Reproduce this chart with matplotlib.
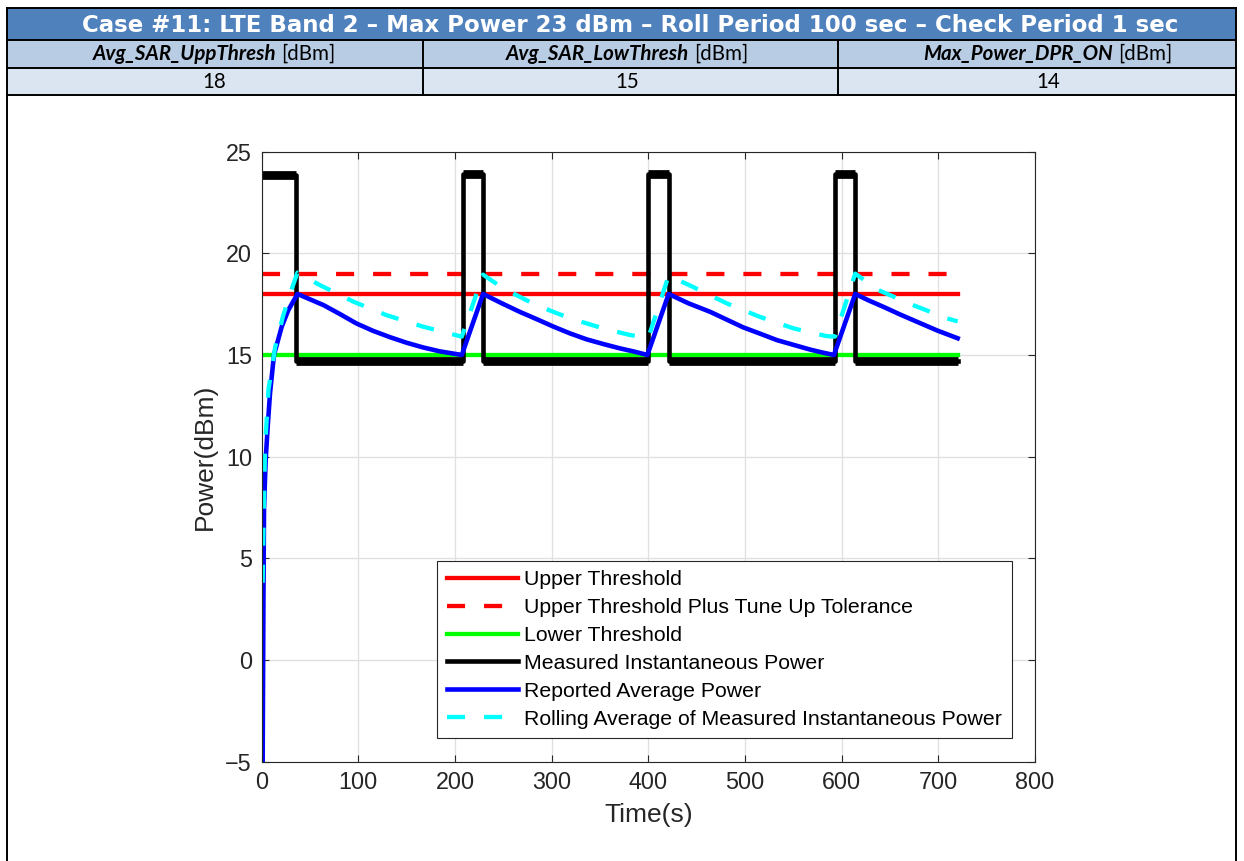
import matplotlib.pyplot as plt
from matplotlib.patches import Rectangle

# thresholds (dBm)
upper_thresh = 18
tune_up_tol = 1
lower_thresh = 15
t_end = 720

# measured instantaneous power: level holds from each switch time to the next
meas_time = [0, 36, 208, 229, 400, 421, 593, 614, 720]
meas_level = [23.85, 14.7, 23.9, 14.7, 23.9, 14.7, 23.9, 14.7, 14.7]

# reported average power
rep_time = [1, 1.8, 2.4, 4.1, 6.2, 8.6, 12.7, 20.7, 27.5, 37,
            64, 81, 98, 115, 133, 150, 167, 184, 207, 229,
            248, 267, 285, 302, 319, 336, 354, 371, 385, 399, 421,
            441, 464, 481, 498, 516, 533, 550, 567, 580, 592, 614,
            628, 643, 660, 678, 699, 720]
rep_power = [-5, 3, 7.45, 9.83, 11.47, 13.11, 15.0, 16.39, 17.2, 18.0,
             17.45, 17.01, 16.55, 16.19, 15.87, 15.6, 15.37, 15.18, 15.0, 18.0,
             17.55, 17.12, 16.75, 16.39, 16.06, 15.77, 15.53, 15.32, 15.17, 15.0, 18.0,
             17.55, 17.12, 16.74, 16.36, 16.04, 15.73, 15.5, 15.27, 15.12, 15.0, 18.0,
             17.68, 17.37, 17.0, 16.63, 16.2, 15.82]

# rolling average of measured power
roll_time = [1, 2, 3.5, 7, 14, 22, 30, 37,
             60, 95, 129, 167, 207, 229,
             250, 284, 319, 353, 381, 400, 421,
             446, 481, 515, 550, 584, 593, 614,
             638, 674, 709, 720]
roll_power = [3.8, 7.0, 10.5, 13.3, 15.4, 16.9, 18.1, 19.05,
              18.44, 17.62, 16.96, 16.39, 15.9, 18.95,
              18.27, 17.45, 16.8, 16.31, 15.98, 15.85, 18.9,
              18.35, 17.54, 16.88, 16.31, 15.93, 15.9, 19.0,
              18.19, 17.45, 16.8, 16.65]

header = 'Case #11: LTE Band 2 \u2013 Max Power 23 dBm \u2013 Roll Period 100 sec \u2013 Check Period 1 sec'
param_names = ['Avg_SAR_UppThresh', 'Avg_SAR_LowThresh', 'Max_Power_DPR_ON']
param_values = [18, 15, 14]

W, H = 1244, 861
fig = plt.figure(figsize=(W / 100, H / 100), dpi=100)

# table drawn in pixel coordinates
tab = fig.add_axes([0, 0, 1, 1])
tab.set_xlim(0, W)
tab.set_ylim(H, 0)
tab.axis('off')

left, right = 7, 1236
rows = [8, 40, 68, 95]
col_edges = [left, 423, 838, right]
col_centers = [214, 627, 1048]
tab.add_patch(Rectangle((left, rows[0]), right - left, rows[1] - rows[0], fc='#4F81BD', ec='none'))
tab.add_patch(Rectangle((left, rows[1]), right - left, rows[2] - rows[1], fc='#B8CCE4', ec='none'))
tab.add_patch(Rectangle((left, rows[2]), right - left, rows[3] - rows[2], fc='#DBE5F1', ec='none'))
for y in rows:
    tab.plot([left, right], [y, y], color='black', lw=1.4)
for x in col_edges[1:-1]:
    tab.plot([x, x], [rows[1], rows[3]], color='black', lw=1.4)
for x in [left, right]:
    tab.plot([x, x], [rows[0], H], color='black', lw=1.4)

tab.text(630, (rows[0] + rows[1]) / 2 + 1, header, color='white', fontsize=16.5,
         fontweight='bold', family='DejaVu Sans', ha='center', va='center')

fig.canvas.draw()
rend = fig.canvas.get_renderer()
for cx, name, val in zip(col_centers, param_names, param_values):
    ym = (rows[1] + rows[2]) / 2
    t1 = tab.text(0, ym, name, fontsize=14.8, family='Lato', fontweight='bold',
                  style='italic', ha='left', va='center')
    t2 = tab.text(0, ym, '[dBm]', fontsize=14.8, family='Lato', ha='left', va='center')
    w1 = t1.get_window_extent(rend).width
    w2 = t2.get_window_extent(rend).width
    gap = 5
    x0 = cx - (w1 + gap + w2) / 2
    t1.set_x(x0)
    t2.set_x(x0 + w1 + gap)
    tab.text(cx, (rows[2] + rows[3]) / 2 + 1, str(val), fontsize=14.8, family='Lato',
             ha='center', va='center')

# chart
ax = fig.add_axes([261.7 / W, 1 - 761.7 / H, (1035 - 261.7) / W, (761.7 - 151.6) / H])
gray = '#262626'

ax.plot([0, t_end], [upper_thresh, upper_thresh], color='#FF0000', lw=3.1,
        label='Upper Threshold')
ax.plot([0, t_end], [upper_thresh + tune_up_tol] * 2, color='#FF0000', lw=3.1,
        dashes=(4.2, 4.4), label='Upper Threshold Plus Tune Up Tolerance')
ax.plot([0, t_end], [lower_thresh, lower_thresh], color='#00FF00', lw=3.1,
        label='Lower Threshold')
ax.plot(meas_time, meas_level, drawstyle='steps-post', color='black', lw=3.3,
        label='Measured Instantaneous Power')
ax.hlines(meas_level[:-1], meas_time[:-1], meas_time[1:], color='black', lw=6.3)
ax.plot(rep_time, rep_power, color='#0000FF', lw=3.3, label='Reported Average Power')
ax.plot(roll_time, roll_power, color='#00FFFF', lw=3.1, dashes=(4.2, 4.4),
        label='Rolling Average of Measured Instantaneous Power')

ax.set_xlim(0, 800)
ax.set_ylim(-5, 25)
ax.set_xticks(range(0, 801, 100))
ax.set_yticks(range(-5, 26, 5))
ax.grid(True, color='#DFDFDF', lw=0.9)
ax.set_axisbelow(True)
ax.tick_params(direction='in', length=5, width=0.8, colors=gray, labelsize=16.8,
               top=True, right=True, pad=7)
for lab in ax.get_xticklabels() + ax.get_yticklabels():
    lab.set_family('Liberation Sans')
for s in ax.spines.values():
    s.set_color(gray)
    s.set_linewidth(0.8)
ax.set_xlabel('Time(s)', fontsize=19, color=gray, family='Liberation Sans', labelpad=6)
ax.set_ylabel('Power(dBm)', fontsize=19, color=gray, family='Liberation Sans', labelpad=6)

leg = ax.legend(loc='lower right', prop={'family': 'Liberation Sans', 'size': 15.3},
                handlelength=3.35, handletextpad=0.28, labelspacing=0.42, borderpad=0.45,
                borderaxespad=1.1, fancybox=False, framealpha=1, edgecolor=gray)
leg.get_frame().set_linewidth(0.8)

fig.savefig('out.png', dpi=100)
